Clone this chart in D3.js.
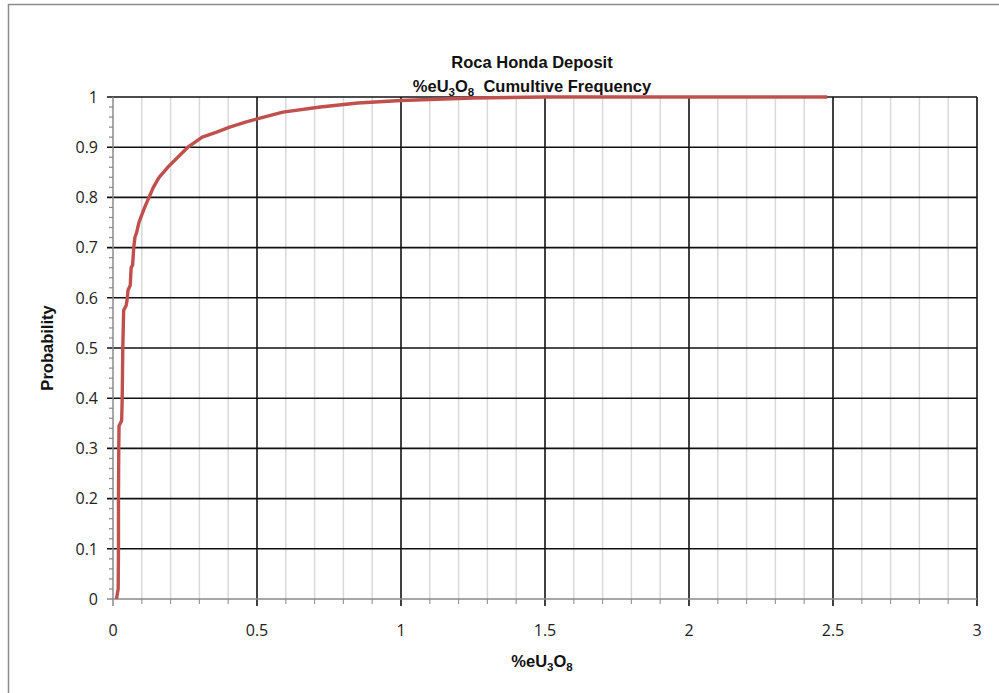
<!DOCTYPE html>
<html><head><meta charset="utf-8">
<script src="https://cdn.jsdelivr.net/npm/d3@7"></script>
<style>body{margin:0;background:#fff;}svg{display:block;}</style>
</head><body>
<svg id="c" width="999" height="693"></svg>
<script>
const titleLine1 = "Roca Honda Deposit";
const xTicks = [0, 0.5, 1, 1.5, 2, 2.5, 3];
const yTicks = [0, 0.1, 0.2, 0.3, 0.4, 0.5, 0.6, 0.7, 0.8, 0.9, 1];
const grade = [0.012, 0.015, 0.018, 0.019, 0.019, 0.020, 0.021, 0.030, 0.032, 0.034, 0.037, 0.046, 0.050, 0.052, 0.060, 0.063, 0.068, 0.072, 0.076, 0.082, 0.090, 0.100, 0.110, 0.125, 0.140, 0.160, 0.190, 0.225, 0.260, 0.285, 0.310, 0.360, 0.405, 0.460, 0.510, 0.590, 0.720, 0.850, 1.000, 1.250, 1.500, 2.480];
const prob  = [0, 0.01, 0.02, 0.10, 0.20, 0.30, 0.345, 0.355, 0.40, 0.50, 0.575, 0.585, 0.60, 0.615, 0.625, 0.66, 0.665, 0.70, 0.72, 0.73, 0.75, 0.765, 0.78, 0.80, 0.82, 0.84, 0.86, 0.88, 0.90, 0.91, 0.92, 0.93, 0.94, 0.95, 0.958, 0.97, 0.98, 0.988, 0.993, 0.998, 1.0, 1.0];

const svg = d3.select("#c");
const L = 113, R = 977, T = 97, B = 599;
const x = d3.scaleLinear().domain([0, 3]).range([L, R]);
const y = d3.scaleLinear().domain([0, 1]).range([B, T]);

// outer border
svg.append("rect").attr("x", 8.5).attr("y", 4.5).attr("width", 1100).attr("height", 800)
  .attr("fill", "none").attr("stroke", "#8c8c8c").attr("stroke-width", 1.5);

// minor vertical grid
const minorX = d3.range(1, 30).map(i => i / 10).filter(v => Math.abs(v * 2 - Math.round(v * 2)) > 1e-6);
svg.append("g").selectAll("line").data(minorX).join("line")
  .attr("x1", d => x(d)).attr("x2", d => x(d)).attr("y1", T).attr("y2", B)
  .attr("stroke", "#d9d9d9").attr("stroke-width", 1.5);
// minor x tick marks below axis
svg.append("g").selectAll("line").data(minorX).join("line")
  .attr("x1", d => x(d)).attr("x2", d => x(d)).attr("y1", B).attr("y2", B + 5)
  .attr("stroke", "#9a9a9a").attr("stroke-width", 1.2);

// minor y ticks
const minorY = d3.range(0, 51).map(i => i / 50).filter(v => Math.abs(v * 10 - Math.round(v * 10)) > 1e-6);
svg.append("g").selectAll("line").data(minorY).join("line")
  .attr("x1", L - 4).attr("x2", L).attr("y1", d => y(d)).attr("y2", d => y(d))
  .attr("stroke", "#8a8a8a").attr("stroke-width", 1.2);

// major horizontal grid
svg.append("g").selectAll("line").data(yTicks.filter(v => v > 0)).join("line")
  .attr("x1", L - 6).attr("x2", R).attr("y1", d => y(d)).attr("y2", d => y(d))
  .attr("stroke", "#111").attr("stroke-width", 1.6);
// major vertical grid
svg.append("g").selectAll("line").data(xTicks.filter(v => v > 0)).join("line")
  .attr("x1", d => x(d)).attr("x2", d => x(d)).attr("y1", T).attr("y2", B + 7)
  .attr("stroke", "#111").attr("stroke-width", 1.6);

// axes lines (gray)
svg.append("line").attr("x1", L - 6).attr("x2", R).attr("y1", B).attr("y2", B)
  .attr("stroke", "#8a8a8a").attr("stroke-width", 1.5);
svg.append("line").attr("x1", L).attr("x2", L).attr("y1", T).attr("y2", B + 7)
  .attr("stroke", "#8a8a8a").attr("stroke-width", 1.5);

// tick labels
const lf = "'Open Sans', 'Liberation Sans', sans-serif";
svg.append("g").selectAll("text").data(yTicks).join("text")
  .attr("x", L - 15).attr("y", d => y(d)).attr("dy", "0.36em").attr("text-anchor", "end")
  .attr("font-family", lf).attr("font-size", 16).attr("fill", "#222")
  .text(d => d3.format("~g")(d));
svg.append("g").selectAll("text").data(xTicks).join("text")
  .attr("x", d => x(d)).attr("y", B + 37).attr("text-anchor", "middle")
  .attr("font-family", lf).attr("font-size", 16).attr("fill", "#222")
  .text(d => d3.format("~g")(d));

// curve
const line = d3.line().x((d, i) => x(grade[i])).y((d, i) => y(prob[i]));
svg.append("path").datum(grade).attr("d", line)
  .attr("fill", "none").attr("stroke", "#c0504d").attr("stroke-width", 3.4).attr("stroke-linejoin", "round");

// titles
const tf = "'Liberation Sans', Arial, sans-serif";
svg.append("text").attr("x", 532).attr("y", 68).attr("text-anchor", "middle")
  .attr("font-family", tf).attr("font-weight", "bold").attr("font-size", 16.5).attr("fill", "#111").text(titleLine1);
const t2 = svg.append("text").attr("x", 532).attr("y", 92).attr("text-anchor", "middle")
  .attr("font-family", tf).attr("font-weight", "bold").attr("font-size", 16.5).attr("fill", "#111");
t2.append("tspan").text("%eU");
t2.append("tspan").attr("font-size", 11.5).attr("dy", 4).text("3");
t2.append("tspan").attr("dy", -4).text("O");
t2.append("tspan").attr("font-size", 11.5).attr("dy", 4).text("8");
t2.append("tspan").attr("dy", -4).text("\u00a0\u00a0Cumultive Frequency");

const xt = svg.append("text").attr("x", 542).attr("y", 667).attr("text-anchor", "middle")
  .attr("font-family", tf).attr("font-weight", "bold").attr("font-size", 16.5).attr("fill", "#111");
xt.append("tspan").text("%eU");
xt.append("tspan").attr("font-size", 11.5).attr("dy", 4).text("3");
xt.append("tspan").attr("dy", -4).text("O");
xt.append("tspan").attr("font-size", 11.5).attr("dy", 4).text("8");

svg.append("text").attr("transform", "translate(53,348) rotate(-90)").attr("text-anchor", "middle")
  .attr("font-family", tf).attr("font-weight", "bold").attr("font-size", 16.5).attr("fill", "#111").text("Probability");
</script>
</body></html>
